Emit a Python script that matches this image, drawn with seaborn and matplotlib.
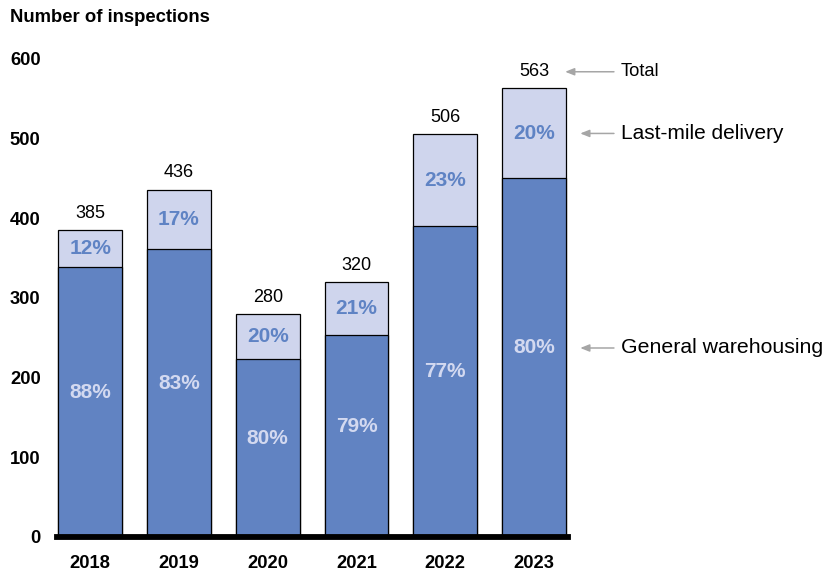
import matplotlib
matplotlib.use("Agg")
import matplotlib.pyplot as plt
import matplotlib.transforms as mtransforms
import seaborn as sns
import pandas as pd

# Inspection counts per year, split by segment
years = ["2018", "2019", "2020", "2021", "2022", "2023"]
totals = [385, 436, 280, 320, 506, 563]
warehousing = [339, 362, 224, 253, 390, 450]
last_mile = [t - w for t, w in zip(totals, warehousing)]
y_ticks = [0, 100, 200, 300, 400, 500, 600]

DARK = "#6183C2"
LIGHT = "#CFD5ED"
DARK_TXT = "#5F83C4"
LIGHT_TXT = "#D3D9F0"
ARROW = "#A6A6A6"

sns.set_theme(style="white")
plt.rcParams["font.family"] = ["Liberation Sans", "DejaVu Sans"]

df = pd.DataFrame({"year": years, "total": totals, "warehousing": warehousing})

fig = plt.figure(figsize=(8.26, 5.74), dpi=100)
ax = fig.add_axes([0.0694, 0.0645, 0.618, 0.8328])

# full-height bars (light) with the warehousing share drawn over them (dark)
sns.barplot(data=df, x="year", y="total", color=LIGHT, saturation=1,
            edgecolor="black", linewidth=0.9, width=0.72, ax=ax)
sns.barplot(data=df, x="year", y="warehousing", color=DARK, saturation=1,
            edgecolor="black", linewidth=0.9, width=0.72, ax=ax)

ax.set_xlim(-0.37, 5.38)
ax.set_ylim(0, 600)
ax.set_yticks(y_ticks)
ax.set_xlabel("")
ax.set_ylabel("")
for side in ["top", "right", "left"]:
    ax.spines[side].set_visible(False)
ax.spines["bottom"].set_linewidth(4.2)
ax.spines["bottom"].set_color("black")
ax.spines["bottom"].set_zorder(5)
ax.tick_params(axis="both", length=0)
ax.tick_params(axis="y", pad=12)
ax.tick_params(axis="x", pad=13)
for lab in ax.get_yticklabels() + ax.get_xticklabels():
    lab.set_fontweight("bold")
    lab.set_fontsize(13.2)
    lab.set_color("black")

for i in range(len(years)):
    w, t, l = warehousing[i], totals[i], last_mile[i]
    # totals above each bar
    ax.annotate(f"{t}", (i, t), xytext=(0, 12), textcoords="offset points",
                ha="center", va="center", fontsize=13, color="black")
    # segment shares
    ax.annotate(f"{round(w / t * 100)}%", (i, w / 2), xytext=(0, 7),
                textcoords="offset points", ha="center", va="center",
                fontsize=15, fontweight="bold", color=LIGHT_TXT)
    ax.annotate(f"{round(l / t * 100)}%", (i, w + l / 2),
                ha="center", va="center",
                fontsize=15, fontweight="bold", color=DARK_TXT)

# series callouts to the right of the last bar
last = len(years) - 1
callouts = [
    ("Total", totals[last], 12, 13.2, 5.35),
    ("Last-mile delivery", warehousing[last] + last_mile[last] / 2, 0, 15, 5.52),
    ("General warehousing", warehousing[last] / 2, 7, 15.3, 5.52),
]
for text, yv, dy, fs, x_head in callouts:
    shifted = mtransforms.offset_copy(ax.transData, fig=fig, x=0, y=dy,
                                      units="points")
    ax.annotate("", xy=(x_head, yv), xytext=(5.9, yv),
                xycoords=shifted, textcoords=shifted, annotation_clip=False,
                arrowprops=dict(arrowstyle="-|>,head_length=0.45,head_width=0.18",
                                color=ARROW, lw=1.1, shrinkA=0, shrinkB=0))
    ax.annotate(text, (5.98, yv), xycoords=shifted,
                ha="left", va="center", fontsize=fs, color="black",
                annotation_clip=False)

fig.text(10 / 826, 1 - 17 / 574, "Number of inspections", ha="left",
         va="center", fontsize=13.3, fontweight="bold", color="black")

fig.savefig("out.png", dpi=100, facecolor="white")
